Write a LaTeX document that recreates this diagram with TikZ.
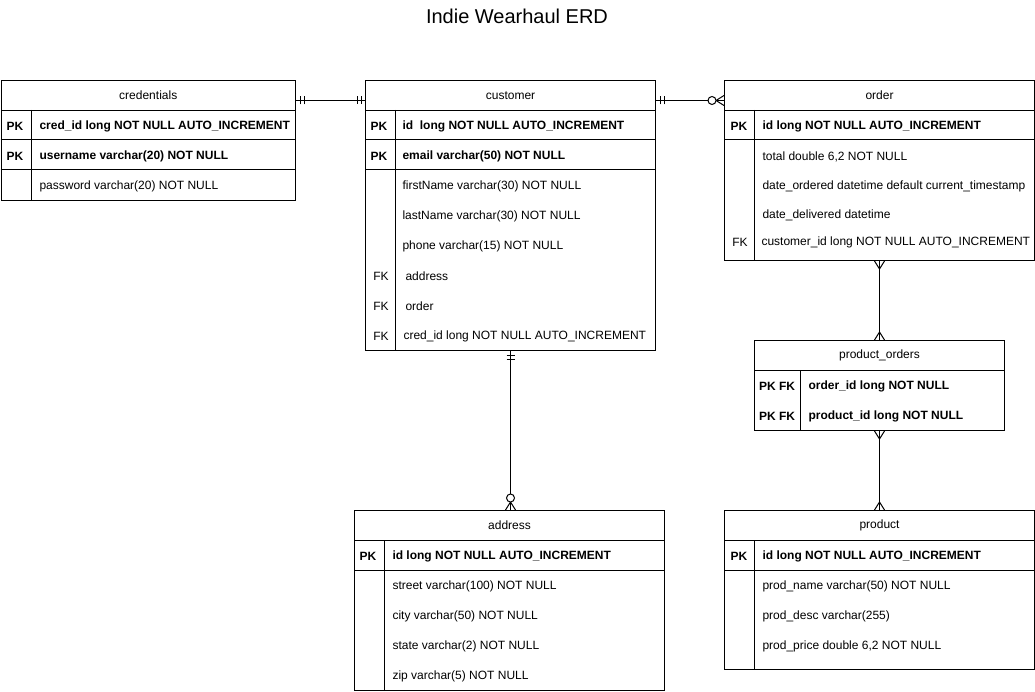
\documentclass[tikz,border=0pt]{standalone}
\usepackage{fontspec}
\setmainfont{Liberation Sans}
\begin{document}
\begin{tikzpicture}[x=1pt,y=-1pt,line width=1pt,
  box/.style={draw,anchor=north west,inner sep=0pt,fill=white},
  hdr/.style={draw,anchor=north west,inner sep=0pt,minimum height=30,font=\fontsize{12}{14}\selectfont},
  fld/.style={anchor=west,inner sep=0pt,yshift=-1pt,font=\fontsize{12}{14}\selectfont},
  bfld/.style={fld,font=\fontsize{12}{14}\selectfont\bfseries},
  key/.style={anchor=center,inner sep=0pt,yshift=-1pt,font=\fontsize{12}{14}\selectfont},
  bkey/.style={key,font=\fontsize{12}{14}\selectfont\bfseries},
  rel/.style={draw,line width=1pt},
  one/.pic={\draw (-4,-4)--(-4,4) (-8,-4)--(-8,4);},
  many/.pic={\draw (0,-5)--(-8,0)--(0,5);},
  zmany/.pic={\draw (0,-5)--(-8,0)--(0,5); \draw[fill=white] (-12,0) circle (4);}
]
\useasboundingbox (0,0) rectangle (1035,692);
\node[font=\fontsize{20}{24}\selectfont] (title) at (517,16) {Indie Wearhaul ERD};

% credentials
\node[box,minimum width=294.5,minimum height=120] (credentials) at (0.5,80) {};
\node[hdr,minimum width=294.5] (credentialsH) at (credentials.north west) {credentials};
\draw (0.5,140) -- (295,140) (0.5,170) -- (295,170) (31,110) -- (31,200);
\node[bkey] (cr1k) at (15,125) {PK};
\node[bfld] (cr1) at (39,125) {cred\_id long NOT NULL AUTO\_INCREMENT};
\node[bkey] (cr2k) at (15,155) {PK};
\node[bfld] (cr2) at (39,155) {username varchar(20) NOT NULL};
\node[fld] (cr3) at (39,185) {password varchar(20) NOT NULL};

% customer
\node[box,minimum width=290,minimum height=270] (customer) at (365,80) {};
\node[hdr,minimum width=290] (customerH) at (customer.north west) {customer};
\draw (365,140) -- (655,140) (365,170) -- (655,170) (395,110) -- (395,350);
\node[bkey] (cu1k) at (379,125) {PK};
\node[bfld] (cu1) at (402,125) {id\ \ long NOT NULL AUTO\_INCREMENT};
\node[bkey] (cu2k) at (379,155) {PK};
\node[bfld] (cu2) at (402,155) {email varchar(50) NOT NULL};
\node[fld] (cu3) at (402,185) {firstName varchar(30) NOT NULL};
\node[fld] (cu4) at (402,215) {lastName varchar(30) NOT NULL};
\node[fld] (cu5) at (402,245) {phone varchar(15) NOT NULL};
\node[key] (cu6k) at (381,275) {FK};
\node[fld] (cu6) at (405,275) {address};
\node[key] (cu7k) at (381,305) {FK};
\node[fld] (cu7) at (405,305) {order};
\node[key] (cu8k) at (381,335) {FK};
\node[fld] (cu8) at (403,335) {cred\_id long NOT NULL AUTO\_INCREMENT};

% order
\node[box,minimum width=310,minimum height=180] (order) at (724,80) {};
\node[hdr,minimum width=310] (orderH) at (order.north west) {order};
\draw (724,140) -- (1034,140) (754,110) -- (754,260);
\node[bkey] (or1k) at (739,125) {PK};
\node[bfld] (or1) at (762,125) {id long NOT NULL AUTO\_INCREMENT};
\node[fld] (or2) at (762,156) {total double 6,2 NOT NULL};
\node[fld] (or3) at (762,185) {date\_ordered datetime default current\_timestamp};
\node[fld] (or4) at (762,214) {date\_delivered datetime};
\node[key] (or5k) at (740,241) {FK};
\node[fld] (or5) at (761,241) {customer\_id long NOT NULL AUTO\_INCREMENT};

% product_orders
\node[box,minimum width=250,minimum height=90] (porders) at (754,340) {};
\node[hdr,minimum width=250] (pordersH) at (porders.north west) {product\_orders};
\draw (800,370) -- (800,430);
\node[bkey] (po1k) at (777,385) {PK FK};
\node[bfld] (po1) at (808,385) {order\_id long NOT NULL};
\node[bkey] (po2k) at (777,415) {PK FK};
\node[bfld] (po2) at (808,415) {product\_id long NOT NULL};

% address
\node[box,minimum width=310,minimum height=180] (address) at (354,510) {};
\node[hdr,minimum width=310] (addressH) at (address.north west) {address};
\draw (354,570) -- (664,570) (384,540) -- (384,690);
\node[bkey] (ad1k) at (368,555) {PK};
\node[bfld] (ad1) at (392,555) {id long NOT NULL AUTO\_INCREMENT};
\node[fld] (ad2) at (392,585) {street varchar(100) NOT NULL};
\node[fld] (ad3) at (392,615) {city varchar(50) NOT NULL};
\node[fld] (ad4) at (392,645) {state varchar(2) NOT NULL};
\node[fld] (ad5) at (392,675) {zip varchar(5) NOT NULL};

% product
\node[box,minimum width=310,minimum height=159] (product) at (724,510) {};
\node[hdr,minimum width=310] (productH) at (product.north west) {product};
\draw (724,570) -- (1034,570) (754,540) -- (754,669);
\node[bkey] (pr1k) at (739,555) {PK};
\node[bfld] (pr1) at (762,555) {id long NOT NULL AUTO\_INCREMENT};
\node[fld] (pr2) at (762,585) {prod\_name varchar(50) NOT NULL};
\node[fld] (pr3) at (762,615) {prod\_desc varchar(255)};
\node[fld] (pr4) at (762,645) {prod\_price double 6,2 NOT NULL};

% relations
\draw[rel] ([yshift=-5pt]credentialsH.east) -- ([yshift=-5pt]customerH.west);
\pic[rotate=180] at ([yshift=-5pt]credentialsH.east) {one};
\pic at ([yshift=-5pt]customerH.west) {one};

\draw[rel] ([yshift=-5pt]customerH.east) -- ([yshift=-5pt]orderH.west);
\pic[rotate=180] at ([yshift=-5pt]customerH.east) {one};
\pic at ([yshift=-5pt]orderH.west) {zmany};

\coordinate (addrTop) at (customer.south |- address.north);
\draw[rel] (customer.south) -- (addrTop);
\pic[rotate=90] at (customer.south) {one};
\pic[rotate=-90] at (addrTop) {zmany};

\draw[rel] (order.south) -- (porders.north);
\pic[rotate=90] at (order.south) {many};
\pic[rotate=-90] at (porders.north) {many};

\draw[rel] (porders.south) -- (product.north);
\pic[rotate=90] at (porders.south) {many};
\pic[rotate=-90] at (product.north) {many};
\end{tikzpicture}
\end{document}
